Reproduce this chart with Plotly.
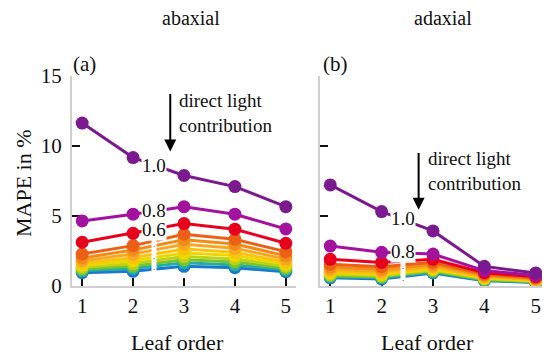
import plotly.graph_objects as go

# ---------------- data ----------------
leaf_order = [1, 2, 3, 4, 5]
x_ticks = [1, 2, 3, 4, 5]
y_ticks = [0, 5, 10, 15]

# abaxial (a): series ordered from highest direct light contribution (1.0) downwards
ab_100 = [11.62, 9.16, 7.88, 7.09, 5.66]
ab_080 = [4.64, 5.12, 5.66, 5.12, 4.07]
ab_060 = [3.12, 3.76, 4.45, 4.05, 3.05]
ab_s04 = [2.28, 2.88, 3.69, 3.33, 2.45]
ab_s05 = [2.00, 2.57, 3.29, 3.00, 2.15]
ab_s06 = [1.80, 2.28, 2.98, 2.69, 1.92]
ab_s07 = [1.62, 2.02, 2.64, 2.40, 1.72]
ab_s08 = [1.47, 1.80, 2.35, 2.17, 1.55]
ab_s09 = [1.33, 1.60, 2.10, 1.93, 1.40]
ab_s10 = [1.20, 1.42, 1.87, 1.71, 1.27]
ab_s11 = [1.08, 1.25, 1.65, 1.50, 1.15]
ab_s12 = [0.95, 1.05, 1.40, 1.30, 1.02]

# adaxial (b)
ad_100 = [7.21, 5.31, 3.93, 1.40, 0.93]
ad_080 = [2.85, 2.40, 2.28, 1.10, 0.75]
ad_060 = [1.90, 1.68, 1.90, 0.95, 0.66]
ad_s04 = [1.55, 1.38, 1.70, 0.85, 0.58]
ad_s05 = [1.35, 1.20, 1.55, 0.77, 0.52]
ad_s06 = [1.18, 1.05, 1.42, 0.70, 0.47]
ad_s07 = [1.05, 0.93, 1.32, 0.63, 0.42]
ad_s08 = [0.93, 0.83, 1.22, 0.57, 0.38]
ad_s09 = [0.83, 0.74, 1.14, 0.52, 0.34]
ad_s10 = [0.74, 0.66, 1.07, 0.47, 0.31]
ad_s11 = [0.66, 0.58, 1.00, 0.42, 0.28]
ad_s12 = [0.58, 0.50, 0.93, 0.38, 0.25]

series_colors = [
    "#7a1a8e", "#a3129f", "#e6001e", "#ec5f16", "#f28c18", "#f6a824",
    "#f9c30c", "#ecd800", "#bed214", "#78c332", "#22ada8", "#1a78cd",
]

abaxial = [ab_100, ab_080, ab_060, ab_s04, ab_s05, ab_s06,
           ab_s07, ab_s08, ab_s09, ab_s10, ab_s11, ab_s12]
adaxial = [ad_100, ad_080, ad_060, ad_s04, ad_s05, ad_s06,
           ad_s07, ad_s08, ad_s09, ad_s10, ad_s11, ad_s12]

FONT = "Liberation Serif, Times New Roman, serif"
TXT = "#111111"

# page has an 8px body margin; figure is sized so it fits the 550x355 window
W, H, OFF = 542, 347, 8
def px(xp):
    return (xp - OFF) / W
def py(yp):
    return 1 - (yp - OFF) / H

fig = go.Figure()
for panel, (xa, ya) in ((abaxial, ("x", "y")), (adaxial, ("x2", "y2"))):
    # draw lowest series first so that higher contributions lie on top
    for vals, col in reversed(list(zip(panel, series_colors))):
        fig.add_trace(go.Scatter(
            x=leaf_order, y=vals, mode="lines+markers",
            line=dict(color=col, width=3),
            marker=dict(color=col, size=13),
            xaxis=xa, yaxis=ya, showlegend=False, hoverinfo="skip",
        ))

axis_common = dict(
    showline=True, linecolor="#cfcfcf", linewidth=2, showgrid=False,
    zeroline=False, ticks="inside", ticklen=8, tickwidth=2, tickcolor="#111111",
    layer="below traces", automargin=False,
    tickfont=dict(family=FONT, size=21, color=TXT),
)
ydom = [py(286), py(75.7)]
fig.update_layout(
    template="none",
    width=W, height=H,
    margin=dict(l=0, r=0, t=0, b=0, autoexpand=False),
    paper_bgcolor="white", plot_bgcolor="white",
    font=dict(family=FONT, color=TXT),
    xaxis=dict(domain=[px(72), px(296)], range=[0.8, 5.2], tickvals=x_ticks,
               anchor="y", **axis_common),
    yaxis=dict(domain=ydom, range=[0, 15], tickvals=y_ticks, anchor="x",
               ticklabelstandoff=4, **axis_common),
    xaxis2=dict(domain=[px(320), px(546)], range=[0.8, 5.2], tickvals=x_ticks,
                anchor="y2", **axis_common),
    yaxis2=dict(domain=ydom, range=[0, 15], tickvals=y_ticks, anchor="x2",
                showticklabels=False, **axis_common),
)

ann = []
def txt(x, y, s, size, xref="paper", yref="paper", **kw):
    d = dict(x=x, y=y, text=s, xref=xref, yref=yref, showarrow=False,
             xanchor="center", yanchor="middle",
             font=dict(family=FONT, size=size, color=TXT))
    d.update(kw)
    ann.append(d)

txt(px(191), py(17.7), "abaxial", 20)
txt(px(443), py(17.7), "adaxial", 20)
txt(px(84), py(64), "(a)", 21)
txt(px(335), py(64), "(b)", 21)
txt(px(177.5), py(342), "Leaf order", 22)
txt(px(427.6), py(342), "Leaf order", 22)
txt(px(23), py(183), "MAPE in %", 22, textangle=-90)

# panel (a) annotations
txt(2.86, 12.36, "direct light<br>contribution", 19, "x", "y", xanchor="left", align="left")
ann.append(dict(x=2.73, y=9.6, ax=2.73, ay=13.8, xref="x", yref="y", axref="x", ayref="y",
                showarrow=True, arrowhead=2, arrowsize=1.2, arrowwidth=2, arrowcolor="#000", text=""))
txt(2.41, 8.6, "1.0", 19, "x", "y", bgcolor="white", borderpad=0)
txt(2.41, 5.4, "0.8", 19, "x", "y", bgcolor="white", borderpad=0)
txt(2.41, 4.0, "0.6", 19, "x", "y", bgcolor="white", borderpad=0)
txt(2.41, 2.2, ".<br>.<br>.", 9, "x", "y", bgcolor="white", borderpad=1)

# panel (b) annotations
txt(2.855, 8.22, "direct light<br>contribution", 19, "x2", "y2", xanchor="left", align="left")
ann.append(dict(x=2.72, y=5.43, ax=2.72, ay=9.6, xref="x2", yref="y2", axref="x2", ayref="y2",
                showarrow=True, arrowhead=2, arrowsize=1.2, arrowwidth=2, arrowcolor="#000", text=""))
txt(2.41, 4.85, "1.0", 19, "x2", "y2", bgcolor="white", borderpad=0)
txt(2.41, 2.45, "0.8", 19, "x2", "y2", bgcolor="white", borderpad=0)
txt(2.41, 0.97, ".<br>.", 9, "x2", "y2", bgcolor="white", borderpad=1)

fig.update_layout(annotations=ann)
fig.write_html("out.html")
